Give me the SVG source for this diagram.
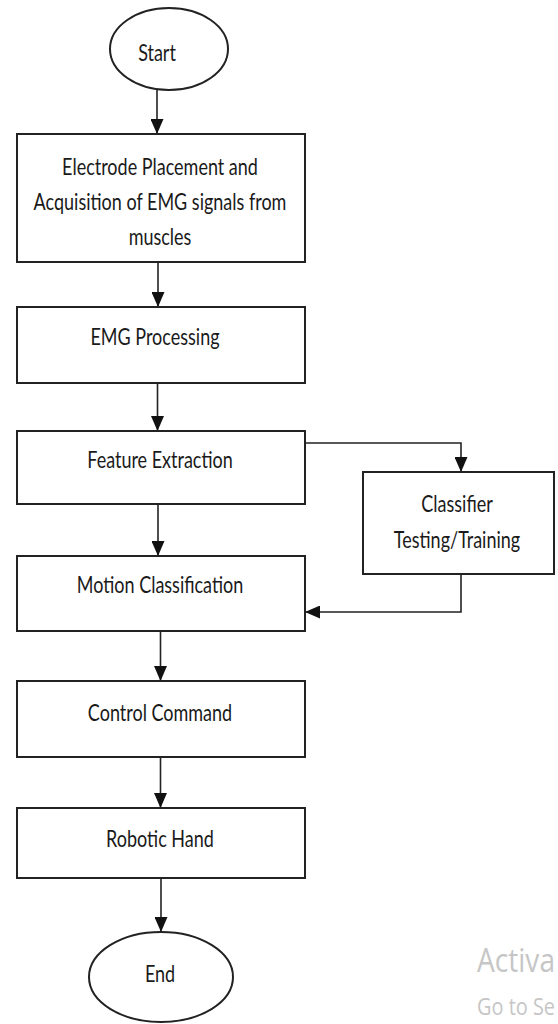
<svg xmlns="http://www.w3.org/2000/svg" width="558" height="1024" viewBox="0 0 558 1024">
<style>
.box{fill:#fff;stroke:#222;stroke-width:2}
.t{font-family:Lato,"Open Sans","Liberation Sans",sans-serif;font-size:18px;fill:#1a1a1a;text-anchor:middle}
.c{fill:none;stroke:#222;stroke-width:1.6}
.wm{font-family:"Open Sans","Noto Sans",sans-serif;fill:#c6c6c6}
</style>
<defs>
<marker id="ah" viewBox="0 0 10 10" refX="10" refY="5" markerWidth="15" markerHeight="13" markerUnits="userSpaceOnUse" orient="auto" preserveAspectRatio="none">
<path d="M0,0 L10,5 L0,10 z" fill="#111"/>
</marker>
</defs>
<rect width="558" height="1024" fill="#fff"/>
<g id="connectors">
<line class="c" x1="157" y1="90" x2="157" y2="134" marker-end="url(#ah)"/>
<line class="c" x1="158" y1="262" x2="158" y2="307" marker-end="url(#ah)"/>
<line class="c" x1="157.5" y1="383" x2="157.5" y2="431" marker-end="url(#ah)"/>
<line class="c" x1="158" y1="504" x2="158" y2="556" marker-end="url(#ah)"/>
<polyline class="c" points="305,443 461,443 461,472" marker-end="url(#ah)"/>
<polyline class="c" points="461,574 461,612 305,612" marker-end="url(#ah)"/>
<line class="c" x1="160.5" y1="631" x2="160.5" y2="681" marker-end="url(#ah)"/>
<line class="c" x1="160.5" y1="757" x2="160.5" y2="808" marker-end="url(#ah)"/>
<line class="c" x1="161" y1="878" x2="161" y2="932" marker-end="url(#ah)"/>
</g>
<g id="start">
<ellipse class="box" cx="169" cy="49" rx="59" ry="41" stroke-width="1.5"/>
<text class="t" transform="translate(157,61) scale(1,1.25)">Start</text>
</g>
<g id="electrode">
<rect class="box" x="17" y="134" width="288" height="128"/>
<text class="t" transform="translate(160,175) scale(1,1.25)">Electrode Placement and</text>
<text class="t" transform="translate(160,210) scale(1,1.25)">Acquisition of EMG signals from</text>
<text class="t" transform="translate(160,245) scale(1,1.25)">muscles</text>
</g>
<g id="emg">
<rect class="box" x="17" y="307" width="288" height="76"/>
<text class="t" transform="translate(155,345) scale(1,1.25)">EMG Processing</text>
</g>
<g id="feature">
<rect class="box" x="17" y="431" width="288" height="73"/>
<text class="t" transform="translate(160,468) scale(1,1.25)">Feature Extraction</text>
</g>
<g id="classifier">
<rect class="box" x="363" y="472" width="191" height="102"/>
<text class="t" transform="translate(457,512) scale(1,1.25)">Classifier</text>
<text class="t" transform="translate(457,548) scale(1,1.25)">Testing/Training</text>
</g>
<g id="motion">
<rect class="box" x="17" y="556" width="288" height="75"/>
<text class="t" transform="translate(160,593) scale(1,1.25)">Motion Classification</text>
</g>
<g id="control">
<rect class="box" x="17" y="681" width="288" height="76"/>
<text class="t" transform="translate(160,721) scale(1,1.25)">Control Command</text>
</g>
<g id="robotic">
<rect class="box" x="17" y="808" width="288" height="70"/>
<text class="t" transform="translate(160,847) scale(1,1.25)">Robotic Hand</text>
</g>
<g id="end">
<ellipse class="box" cx="161" cy="977" rx="72" ry="45" stroke-width="1.5"/>
<text class="t" transform="translate(160,982) scale(1,1.25)">End</text>
</g>
<g id="watermark">
<text class="wm" font-size="27" textLength="78" lengthAdjust="spacingAndGlyphs" transform="translate(477,972) scale(1,1.2)">Activa</text>
<text class="wm" font-size="20" textLength="78" lengthAdjust="spacingAndGlyphs" transform="translate(477,1015) scale(1,1.2)">Go to Se</text>
</g>
</svg>
